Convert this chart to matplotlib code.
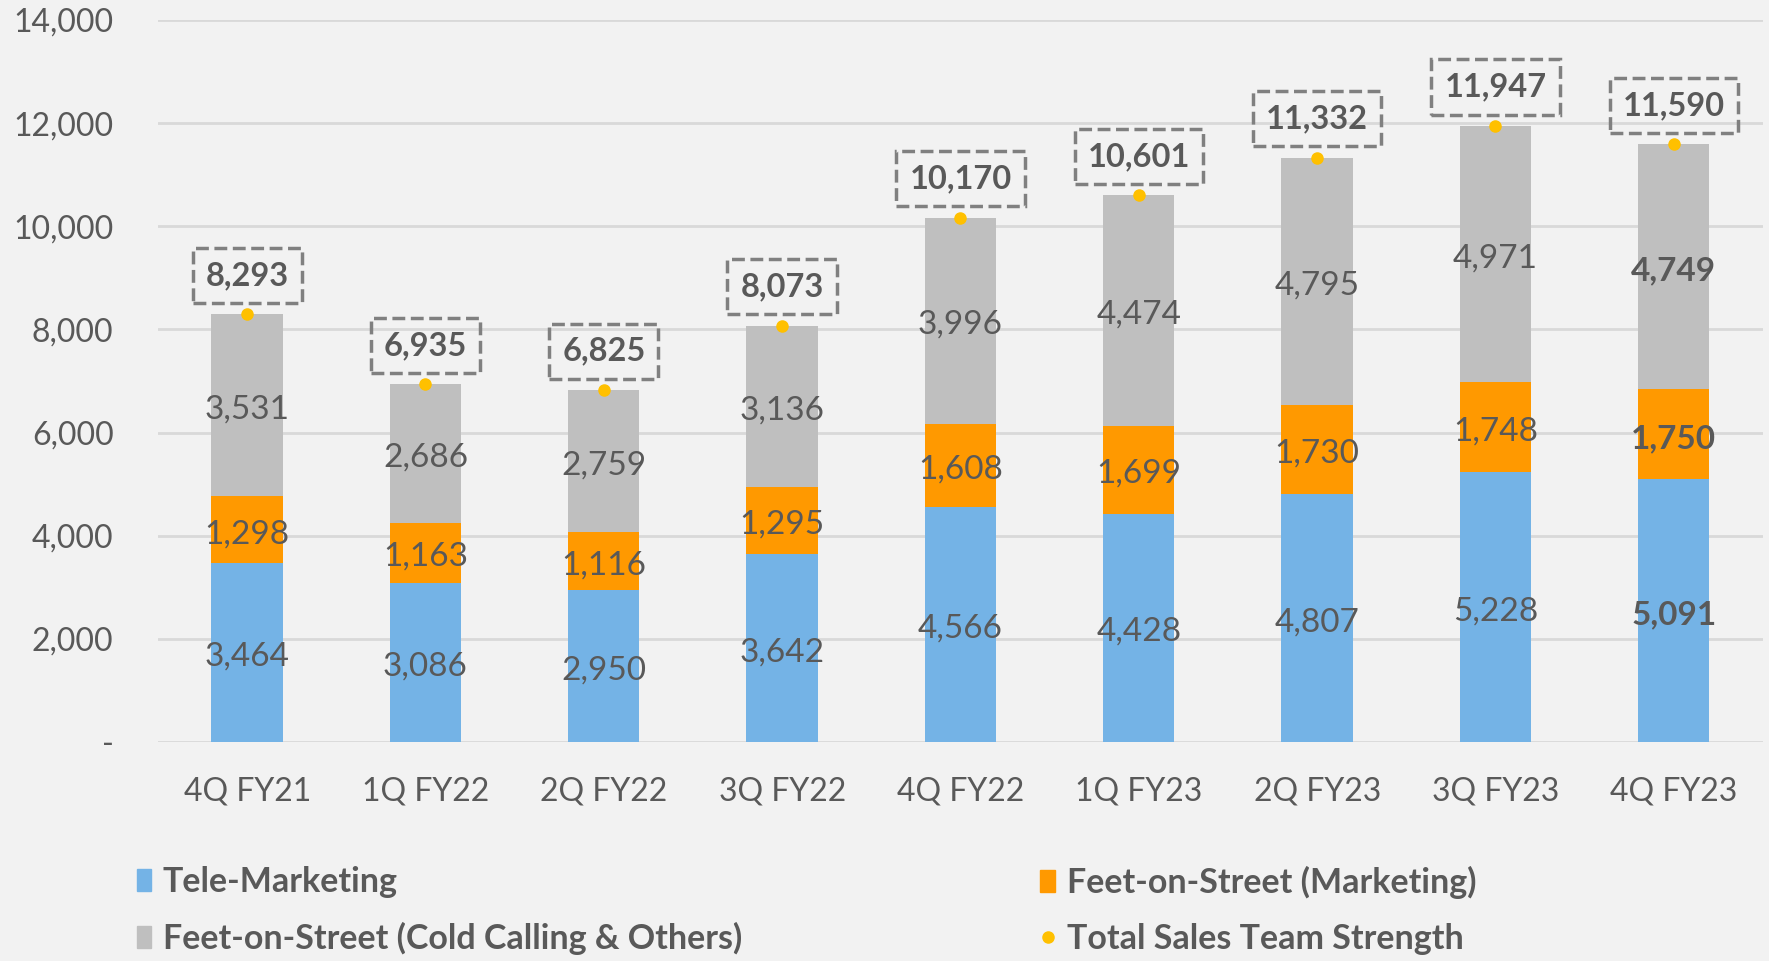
import matplotlib.pyplot as plt
from matplotlib.patches import Patch
from matplotlib.lines import Line2D
from matplotlib.ticker import FuncFormatter

quarters = ["4Q FY21", "1Q FY22", "2Q FY22", "3Q FY22", "4Q FY22",
            "1Q FY23", "2Q FY23", "3Q FY23", "4Q FY23"]
tele_marketing = [3464, 3086, 2950, 3642, 4566, 4428, 4807, 5228, 5091]
fos_marketing = [1298, 1163, 1116, 1295, 1608, 1699, 1730, 1748, 1750]
fos_cold_calling = [3531, 2686, 2759, 3136, 3996, 4474, 4795, 4971, 4749]
total_strength = [8293, 6935, 6825, 8073, 10170, 10601, 11332, 11947, 11590]

BG = "#F2F2F2"
TEXT = "#595959"
BLUE = "#74B3E6"
ORANGE = "#FF9900"
GRAY = "#BFBFBF"
DOT = "#FFC000"

plt.rcParams["font.family"] = ["Lato", "DejaVu Sans"]

fig = plt.figure(figsize=(17.69, 9.61), dpi=100, facecolor=BG)
ax = fig.add_axes([0.0893, 0.2279, 0.9073, 0.7513], facecolor=BG)

x = list(range(len(quarters)))
width = 0.4
bottom2 = [a + b for a, b in zip(tele_marketing, fos_marketing)]

series = [
    (tele_marketing, [0] * len(x), BLUE),
    (fos_marketing, tele_marketing, ORANGE),
    (fos_cold_calling, bottom2, GRAY),
]
for values, base, color in series:
    ax.bar(x, values, width, bottom=base, color=color, zorder=2)
    for i, (v, b) in enumerate(zip(values, base)):
        last = i == len(x) - 1
        ax.annotate(f"{v:,}", (i, b + v / 2), xytext=(0, -3),
                    textcoords="offset points", ha="center", va="center",
                    fontsize=24, color=TEXT,
                    fontweight="bold" if last else "normal", zorder=4)

ax.plot(x, total_strength, "o", color=DOT, markersize=8, zorder=5)
for i, t in enumerate(total_strength):
    ax.annotate(f"{t:,}", (i, t), xytext=(0, 28), textcoords="offset points",
                ha="center", va="center", fontsize=23.5, fontweight="bold",
                color=TEXT,
                bbox=dict(boxstyle="square,pad=0.4", facecolor="none",
                          edgecolor="#808080", linestyle="--", linewidth=2.5))

ax.set_xlim(-0.5, len(x) - 0.5)
ax.set_ylim(0, 14000)
ax.set_yticks(range(0, 14001, 2000))
ax.yaxis.set_major_formatter(FuncFormatter(lambda v, p: "-" if v == 0 else f"{int(v):,}"))
ax.set_xticks(x)
ax.set_xticklabels(quarters)
ax.tick_params(axis="both", length=0, labelsize=23, colors=TEXT)
ax.tick_params(axis="y", pad=32)
ax.tick_params(axis="x", pad=25)
ax.grid(axis="y", color="#D9D9D9", linewidth=2, zorder=0)
ax.set_axisbelow(True)
for s in ax.spines.values():
    s.set_visible(False)

# two legend columns placed separately
left_items = [Patch(color=BLUE, label="Tele-Marketing"),
              Patch(color=GRAY, label="Feet-on-Street (Cold Calling & Others)")]
right_items = [Patch(color=ORANGE, label="Feet-on-Street (Marketing)"),
               Line2D([], [], marker="o", linestyle="none", color=DOT,
                      markersize=8, label="Total Sales Team Strength")]
for handles, xpos in [(left_items, 0.0676), (right_items, 0.5785)]:
    leg = fig.legend(handles=handles, loc="upper left", bbox_to_anchor=(xpos, 0.117),
                     frameon=False, handlelength=0.42, handleheight=0.62,
                     handletextpad=0.35, labelspacing=0.7, borderpad=0,
                     prop={"size": 24.5, "weight": "bold"})
    for t in leg.get_texts():
        t.set_color(TEXT)

fig.savefig("out.png", dpi=100, facecolor=BG)
